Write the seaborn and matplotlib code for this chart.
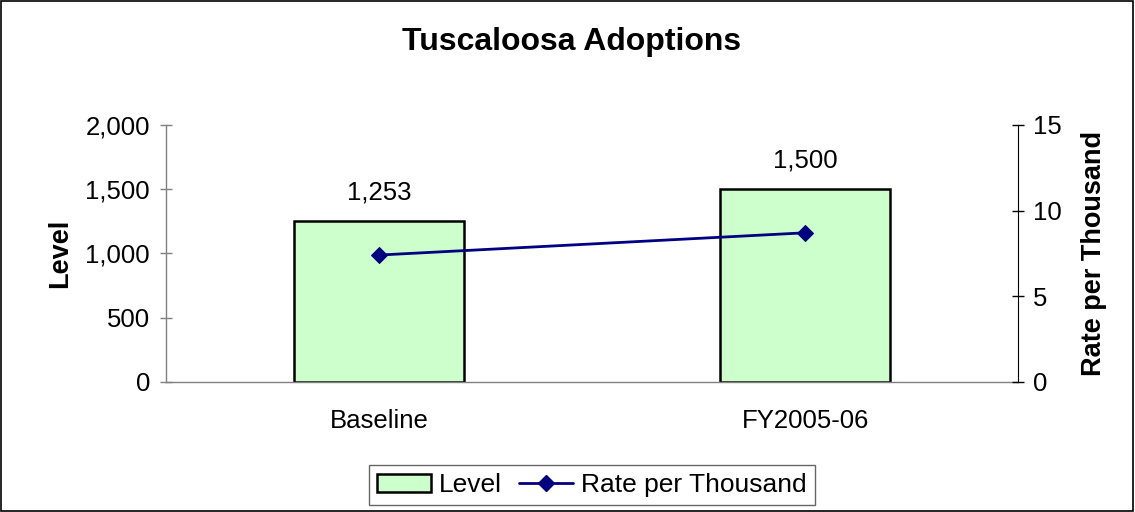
import matplotlib
matplotlib.use("Agg")
import matplotlib.pyplot as plt
import seaborn as sns
import pandas as pd
from matplotlib.patches import Patch, Rectangle
from matplotlib.lines import Line2D

categories = ["Baseline", "FY2005-06"]
levels = [1253, 1500]
rates = [7.4, 8.7]
level_labels = ["1,253", "1,500"]
left_ticks = [0, 500, 1000, 1500, 2000]
right_ticks = [0, 5, 10, 15]

sns.set_style("white")
plt.rcParams['font.family'] = ['Liberation Sans', 'DejaVu Sans']
plt.rcParams.update({'text.color': 'black', 'axes.labelcolor': 'black',
                     'xtick.color': 'black', 'ytick.color': 'black'})

df = pd.DataFrame({"cat": categories, "level": levels, "rate": rates})

FS = 18.5
fig = plt.figure(figsize=(11.35, 5.12), dpi=100)
fig.patches.append(Rectangle((0.001, 0.002), 0.997, 0.996, transform=fig.transFigure,
                             fill=False, edgecolor='black', linewidth=1.2))
ax = fig.add_axes([0.1463, 0.2545, 0.7507, 0.5014])
bar_color = "#CCFFCC"
sns.barplot(data=df, x="cat", y="level", color=bar_color, edgecolor="black",
            linewidth=1.8, width=0.4, saturation=1, ax=ax)
ax.set_ylim(0, 2000)
ax.set_xlim(-0.5, 1.5)
ax.set_yticks(left_ticks)
ax.set_yticklabels([f"{v:,}" for v in left_ticks])
ax.set_xlabel("")
ax.set_ylabel("Level", fontsize=19.5, fontweight='bold', labelpad=9)
ax.tick_params(axis='y', labelsize=FS, length=9, direction='inout', width=1,
               color='#808080', pad=7)
ax.tick_params(axis='x', labelsize=FS, length=0, pad=20)
ax.set_xticks([0, 1])
ax.set_xticklabels(categories)
ax.set_xticks([-0.5, 0.5, 1.5], minor=True)
ax.tick_params(axis='x', which='minor', length=7, direction='out', width=1, color='#808080')
for s in ['top', 'right']:
    ax.spines[s].set_visible(False)
for s in ['left', 'bottom']:
    ax.spines[s].set_color('#808080')
    ax.spines[s].set_linewidth(1)
for i, (v, lab) in enumerate(zip(levels, level_labels)):
    ax.annotate(lab, (i, v), xytext=(0, 12), textcoords='offset points',
                ha='center', va='bottom', fontsize=FS)

ax2 = ax.twinx()
line_color = "#000080"
sns.lineplot(data=df, x="cat", y="rate", color=line_color, marker='D', markersize=8,
             linewidth=2, sort=False, ax=ax2, markeredgecolor=line_color)
ax2.set_ylim(0, 15)
ax2.set_yticks(right_ticks)
ax2.set_ylabel("Rate per Thousand", fontsize=19.5, fontweight='bold', labelpad=14)
ax2.tick_params(axis='y', labelsize=FS, length=9, direction='inout', width=1,
                color='black', pad=6)
for s in ['top', 'left', 'bottom']:
    ax2.spines[s].set_visible(False)
ax2.spines['right'].set_color('black')
ax2.set_xlabel("")

fig.text(0.504, 0.918, "Tuscaloosa Adoptions", ha='center', va='center',
         fontsize=23, fontweight='bold')

handles = [Patch(facecolor=bar_color, edgecolor='black', linewidth=1.8, label='Level'),
           Line2D([0], [0], color=line_color, marker='D', markersize=8, linewidth=2,
                  label='Rate per Thousand')]
leg = fig.legend(handles=handles, loc='center', bbox_to_anchor=(0.5216, 0.052), ncol=2,
                 fontsize=19, frameon=True, fancybox=False, edgecolor='#404040',
                 handlelength=2.05, handletextpad=0.3, columnspacing=0.65,
                 borderpad=0.3)
leg.get_frame().set_linewidth(1)

fig.savefig("out.png", dpi=100)
